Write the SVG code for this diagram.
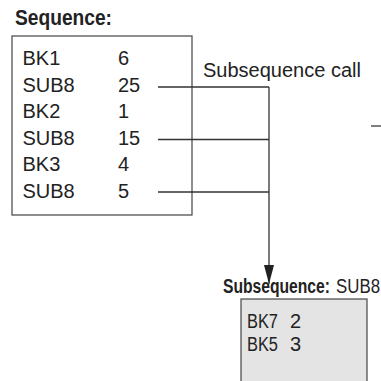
<svg xmlns="http://www.w3.org/2000/svg" width="381" height="381" viewBox="0 0 381 381">
<defs>
<style>
.t{font-family:"Liberation Sans",Arial,sans-serif;font-size:20px;fill:#222}
.b{font-weight:bold}
.box{fill:#fff;stroke:#444;stroke-width:1.2}
.sub{fill:#e4e4e4;stroke:#444;stroke-width:1.2}
.ln{stroke:#333;stroke-width:1.3;fill:none}
</style>
<marker id="ah" markerWidth="20" markerHeight="10" refX="19" refY="5" orient="auto" markerUnits="userSpaceOnUse" viewBox="0 0 20 10">
<path d="M0,0 L19,5 L0,10 Z" fill="#222"/>
</marker>
</defs>
<g id="sequence">
<text class="t b" x="15" y="25" style="font-size:22px" textLength="97" lengthAdjust="spacingAndGlyphs">Sequence:</text>
<rect class="box" x="12" y="36" width="180" height="179"/>
<text class="t" x="22.5" y="65">BK1</text><text class="t" x="118" y="65">6</text>
<text class="t" x="22.5" y="92">SUB8</text><text class="t" x="118" y="92">25</text>
<text class="t" x="22.5" y="118">BK2</text><text class="t" x="118" y="118">1</text>
<text class="t" x="22.5" y="145">SUB8</text><text class="t" x="118" y="145">15</text>
<text class="t" x="22.5" y="171">BK3</text><text class="t" x="118" y="171">4</text>
<text class="t" x="22.5" y="198">SUB8</text><text class="t" x="118" y="198">5</text>
</g>
<g id="label-call">
<text class="t" x="203" y="77">Subsequence call</text>
</g>
<g id="subsequence">
<text class="t b" x="223" y="293" textLength="107" lengthAdjust="spacingAndGlyphs">Subsequence:</text>
<text class="t" x="336" y="293" textLength="44" lengthAdjust="spacingAndGlyphs">SUB8</text>
<rect class="sub" x="241" y="299" width="126" height="90"/>
<text class="t" x="247" y="328" textLength="31" lengthAdjust="spacingAndGlyphs">BK7</text><text class="t" x="290" y="328">2</text>
<text class="t" x="247" y="351" textLength="31" lengthAdjust="spacingAndGlyphs">BK5</text><text class="t" x="290" y="351">3</text>
</g>
<g id="connectors">
<path class="ln" d="M158,87 H269 M158,139.5 H269 M158,192 H269"/>
<path class="ln" d="M269,87 V284" marker-end="url(#ah)"/>
<path d="M371,126 H381" stroke="#555" stroke-width="1.5"/>
</g>
</svg>
